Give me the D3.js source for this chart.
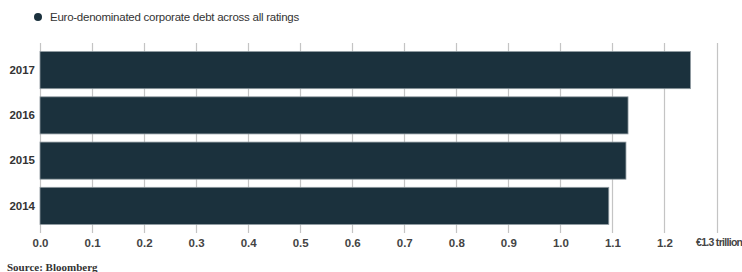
<!DOCTYPE html>
<html><head><meta charset="utf-8">
<script src="https://cdn.jsdelivr.net/npm/d3@7"></script>
<style>body{margin:0;background:#fff}svg{display:block}</style>
</head><body>
<script>
const categories = ["2017","2016","2015","2014"];
const values = [1.25, 1.13, 1.126, 1.093];
const tickValues = [0,0.1,0.2,0.3,0.4,0.5,0.6,0.7,0.8,0.9,1.0,1.1,1.2,1.3];
const tickLabels = ["0.0","0.1","0.2","0.3","0.4","0.5","0.6","0.7","0.8","0.9","1.0","1.1","1.2","€1.3 trillion"];
const legendLabel = "Euro-denominated corporate debt across all ratings";
const sourceLabel = "Source: Bloomberg";

const W=742,H=272;
const svg=d3.select("body").append("svg").attr("width",W).attr("height",H);
const x=d3.scaleLinear().domain([0,1.3]).range([40,716.5]);
const y=d3.scaleBand().domain(categories).range([47.5,228.5]).paddingInner(0.18).paddingOuter(0.09);

// gridlines
svg.append("g").selectAll("line").data(tickValues).join("line")
 .attr("x1",d=>Math.round(x(d))+0.5).attr("x2",d=>Math.round(x(d))+0.5)
 .attr("y1",43).attr("y2",233).attr("stroke","#c4c4c4").attr("stroke-width",1.2);

// bars
svg.append("g").selectAll("rect").data(categories).join("rect")
 .attr("x",x(0)).attr("y",(d)=>y(d)).attr("height",y.bandwidth())
 .attr("width",(d,i)=>x(values[i])-x(0))
 .attr("fill","#1b313d").attr("stroke","#8f9aa0").attr("stroke-width",0.8);

// x axis labels
const last=tickValues.length-1;
const xa=d3.axisBottom(x).tickValues(tickValues).tickSize(0).tickFormat((d,i)=>tickLabels[i]);
const gx=svg.append("g").attr("transform","translate(0,236)").call(xa);
gx.select(".domain").remove();
gx.selectAll("text").attr("font-family","Liberation Sans, Arial, sans-serif").attr("font-size",11.5).attr("font-weight","bold").attr("fill","#444").attr("dy","0.71em")
 .attr("text-anchor",(d,i)=>i===last?"start":"middle")
 .attr("dx",(d,i)=>i===last?"-21":"0")
 .each(function(d,i){ if(i===last) d3.select(this).attr("font-size",10.5).attr("letter-spacing","-0.7"); });

// y axis labels
const ya=d3.axisLeft(y).tickSize(0).tickPadding(0);
const gy=svg.append("g").attr("transform","translate(35,0)").call(ya);
gy.select(".domain").remove();
gy.selectAll("text").attr("font-family","Liberation Sans, Arial, sans-serif").attr("font-size",11.5).attr("font-weight","bold").attr("fill","#333");

// legend
svg.append("circle").attr("cx",38).attr("cy",17).attr("r",4).attr("fill","#1b313d");
svg.append("text").attr("x",50).attr("y",21).text(legendLabel)
 .attr("font-family","Liberation Sans, Arial, sans-serif").attr("font-size",11.5).attr("fill","#333")
 .attr("letter-spacing","-0.25");

// source
svg.append("text").attr("x",7).attr("y",271).text(sourceLabel)
 .attr("font-family","Liberation Serif, serif").attr("font-size",11).attr("font-weight","bold").attr("fill","#333");
</script>
</body></html>
